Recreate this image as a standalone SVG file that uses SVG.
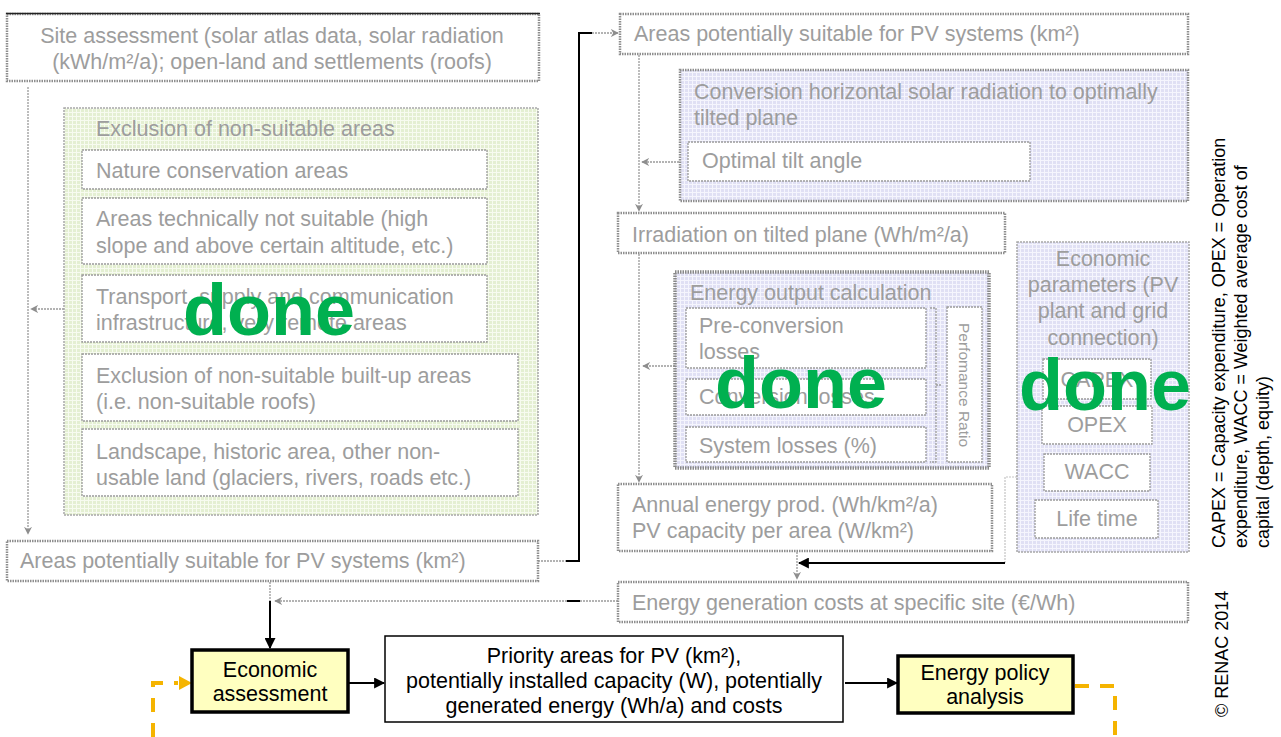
<svg xmlns="http://www.w3.org/2000/svg" width="1281" height="737" viewBox="0 0 1281 737">
<defs>
<style>
.g{font-family:"Liberation Sans",Arial,sans-serif;font-size:21.5px;fill:#9d9d9d}
.gm{font-family:"Liberation Sans",Arial,sans-serif;font-size:21.5px;fill:#9d9d9d;text-anchor:middle}
.k{font-family:"Liberation Sans",Arial,sans-serif;font-size:21.5px;fill:#000;text-anchor:middle}
.n{font-family:"Liberation Sans",Arial,sans-serif;font-size:18px;fill:#000}
.done{font-family:"Liberation Sans",Arial,sans-serif;font-weight:bold;font-size:72px;fill:#00b050}
.ob{fill:#fff;stroke:#8e8e8e;stroke-width:2.5;stroke-dasharray:1.5 1}
.ib{fill:#fff;stroke:#9a9a9a;stroke-width:1.3;stroke-dasharray:2 1}
.gc{fill:none;stroke:#9a9a9a;stroke-width:1.3;stroke-dasharray:2 1}
.bc{fill:none;stroke:#000;stroke-width:2}
.oc{fill:none;stroke:#f5b400;stroke-width:4;stroke-dasharray:14 11}
.yb{fill:#ffffc0;stroke:#000;stroke-width:3.5}
</style>
<pattern id="pg" width="4" height="4" patternUnits="userSpaceOnUse"><rect width="4" height="4" fill="#e4efd2"/><path d="M0 0.5H4M0.5 0V4" stroke="#f7fbf0" stroke-width="1"/></pattern>
<pattern id="pl" width="4" height="4" patternUnits="userSpaceOnUse"><rect width="4" height="4" fill="#e0e0f4"/><path d="M0 0.5H4M0.5 0V4" stroke="#f5f5fd" stroke-width="1"/></pattern>
<marker id="ag" viewBox="0 0 10 10" refX="9" refY="5" markerWidth="8" markerHeight="8" markerUnits="userSpaceOnUse" orient="auto"><path d="M0,0 L10,5 L0,10 L3,5 z" fill="#8e8e8e"/></marker>
<marker id="ak" viewBox="0 0 10 10" refX="9" refY="5" markerWidth="11" markerHeight="11" markerUnits="userSpaceOnUse" orient="auto"><path d="M0,0 L10,5 L0,10 z" fill="#000"/></marker>
</defs>
<rect width="1281" height="737" fill="#fff"/>

<g id="connectors">
<path class="gc" d="M28,87 V534" marker-end="url(#ag)"/>
<path class="gc" d="M64,309 H31" marker-end="url(#ag)"/>
<path class="gc" d="M538,561 H566"/>
<path class="bc" d="M566,561 H579 V33 H592"/>
<path class="gc" d="M592,33 H618" marker-end="url(#ag)"/>
<path class="gc" d="M639,55 V211" marker-end="url(#ag)"/>
<path class="gc" d="M688,162 H642" marker-end="url(#ag)"/>
<path class="gc" d="M639,254 V482" marker-end="url(#ag)"/>
<path class="gc" d="M675,366 H643" marker-end="url(#ag)"/>
<path fill="none" stroke="#c4c4c4" stroke-width="1.2" stroke-dasharray="2 1" d="M1017,477 H1005 V563"/>
<path class="bc" d="M1005,563 H799" marker-end="url(#ak)"/>
<path class="gc" d="M797,552 V579" marker-end="url(#ag)"/>
<path class="gc" d="M618,601 H580"/>
<path class="bc" d="M580,601 H567"/>
<path class="gc" d="M567,601 H275" marker-end="url(#ag)"/>
<path class="gc" d="M270,582 V601"/>
<path class="bc" d="M270,601 V648" marker-end="url(#ak)"/>
<path class="bc" d="M348,683 H384" marker-end="url(#ak)"/>
<path class="bc" d="M845,683 H897" marker-end="url(#ak)"/>
<path class="oc" d="M153,737 V683 H178"/>
<path d="M179,676 L192,683 L179,690 z" fill="#f5b400"/>
<path class="oc" d="M1075,686 H1115 V737"/>
</g>

<g id="site-assessment">
<rect class="ob" x="7" y="14" width="532" height="67"/>
<line x1="6" y1="13.5" x2="540" y2="13.5" stroke="#222" stroke-width="1.5"/>
<text class="gm" x="272" y="43">Site assessment (solar atlas data, solar radiation</text>
<text class="gm" x="272" y="69">(kWh/m²/a); open-land and settlements (roofs)</text>
</g>

<g id="exclusion">
<rect x="64" y="108" width="474" height="407" fill="url(#pg)" stroke="#a8a8a8" stroke-width="1.5" stroke-dasharray="2 1"/>
<text class="g" x="96" y="136">Exclusion of non-suitable areas</text>
<g id="nature"><rect class="ib" x="82" y="150" width="405" height="39"/><text class="g" x="96" y="178">Nature conservation areas</text></g>
<g id="technical"><rect class="ib" x="82" y="198" width="405" height="66"/><text class="g" x="96" y="226">Areas technically not suitable (high</text><text class="g" x="96" y="253">slope and above certain altitude, etc.)</text></g>
<g id="transport"><rect class="ib" x="82" y="275" width="405" height="67"/><text class="g" x="96" y="304">Transport, supply and communication</text><text class="g" x="96" y="330">infrastructure, very remote areas</text></g>
<g id="builtup"><rect class="ib" x="82" y="354" width="436" height="67"/><text class="g" x="96" y="383">Exclusion of non-suitable built-up areas</text><text class="g" x="96" y="409">(i.e. non-suitable roofs)</text></g>
<g id="landscape"><rect class="ib" x="82" y="429" width="436" height="67"/><text class="g" x="96" y="459">Landscape, historic area, other non-</text><text class="g" x="96" y="485">usable land (glaciers, rivers, roads etc.)</text></g>
</g>

<g id="areas-left">
<rect class="ob" x="7" y="541" width="531" height="40"/>
<text class="g" x="20" y="568">Areas potentially suitable for PV systems (km²)</text>
</g>

<g id="areas-right">
<rect class="ob" x="620" y="14" width="568" height="40"/>
<text class="g" x="634" y="41">Areas potentially suitable for PV systems (km²)</text>
</g>

<g id="conversion">
<rect x="680" y="70" width="508" height="131" fill="url(#pl)" stroke="#8e8e8e" stroke-width="2.5" stroke-dasharray="1.5 1"/>
<text class="g" x="694" y="99">Conversion horizontal solar radiation to optimally</text>
<text class="g" x="694" y="125">tilted plane</text>
<g id="tilt"><rect class="ib" x="688" y="142" width="342" height="39"/><text class="g" x="702" y="168">Optimal tilt angle</text></g>
</g>

<g id="irradiation">
<rect class="ob" x="618" y="213" width="387" height="40"/>
<text class="g" x="632" y="242">Irradiation on tilted plane (Wh/m²/a)</text>
</g>

<g id="energy-output">
<rect x="675" y="272" width="314" height="196" fill="url(#pl)" stroke="#888" stroke-width="3.5" stroke-dasharray="1.5 1"/>
<text class="g" x="690" y="300">Energy output calculation</text>
<g id="preconv"><rect class="ib" x="686" y="308" width="240" height="60"/><text class="g" x="699" y="333">Pre-conversion</text><text class="g" x="699" y="359">losses</text></g>
<g id="convloss"><rect class="ib" x="686" y="379" width="240" height="36"/><text class="g" x="699" y="404">Conversion losses</text></g>
<g id="sysloss"><rect class="ib" x="686" y="427" width="240" height="35"/><text class="g" x="699" y="453">System losses (%)</text></g>
<path class="gc" d="M930,308 H936 V462 H930 M936,385 H941"/>
<g id="pr"><rect class="ib" x="947" y="307" width="35" height="155"/><text class="g" style="font-size:15.5px" transform="translate(958.5,323) rotate(90)">Perfomance Ratio</text></g>
</g>

<g id="annual">
<rect class="ob" x="618" y="484" width="374" height="67"/>
<text class="g" x="632" y="512">Annual energy prod. (Wh/km²/a)</text>
<text class="g" x="632" y="538">PV capacity per area  (W/km²)</text>
</g>

<g id="economic-params">
<rect x="1017" y="242" width="172" height="310" fill="url(#pl)" stroke="#a8a8a8" stroke-width="1.5" stroke-dasharray="2 1"/>
<text class="gm" x="1103" y="266">Economic</text>
<text class="gm" x="1103" y="292">parameters (PV</text>
<text class="gm" x="1103" y="318">plant and grid</text>
<text class="gm" x="1103" y="345">connection)</text>
<g id="capex"><rect class="ib" x="1043" y="359" width="108" height="40"/><text class="gm" x="1097" y="387">CAPEX</text></g>
<g id="opex"><rect class="ib" x="1042" y="406" width="110" height="38"/><text class="gm" x="1097" y="432">OPEX</text></g>
<g id="wacc"><rect class="ib" x="1044" y="454" width="106" height="37"/><text class="gm" x="1097" y="479">WACC</text></g>
<g id="lifetime"><rect class="ib" x="1035" y="500" width="123" height="38"/><text class="gm" x="1097" y="526">Life time</text></g>
</g>

<g id="energy-gen">
<rect class="ob" x="618" y="582" width="570" height="40"/>
<text class="g" x="632" y="610">Energy generation costs at specific site (€/Wh)</text>
</g>

<g id="economic-assessment">
<rect class="yb" x="192" y="650" width="156" height="62"/>
<text class="k" x="270" y="677">Economic</text>
<text class="k" x="270" y="701">assessment</text>
</g>

<g id="priority">
<rect x="385" y="636" width="458" height="86" fill="#fff" stroke="#000" stroke-width="1.5"/>
<text class="k" x="614" y="663">Priority areas for PV (km²),</text>
<text class="k" x="614" y="688">potentially installed capacity (W), potentially</text>
<text class="k" x="614" y="713">generated energy (Wh/a) and costs</text>
</g>

<g id="energy-policy">
<rect class="yb" x="898" y="656" width="175" height="57"/>
<text class="k" x="985" y="680">Energy policy</text>
<text class="k" x="985" y="704">analysis</text>
</g>

<g id="notes">
<text class="n" transform="translate(1225,548) rotate(-90)">CAPEX = Capacity expenditure, OPEX = Operation</text>
<text class="n" transform="translate(1247,548) rotate(-90)">expenditure, WACC = Weighted average cost of</text>
<text class="n" transform="translate(1269,548) rotate(-90)">capital (depth, equity)</text>
<text class="n" transform="translate(1228,717) rotate(-90)">© RENAC 2014</text>
</g>

<g id="done-marks">
<text class="done" x="183" y="335">done</text>
<text class="done" x="715" y="408">done</text>
<text class="done" x="1019" y="410">done</text>
</g>
</svg>
